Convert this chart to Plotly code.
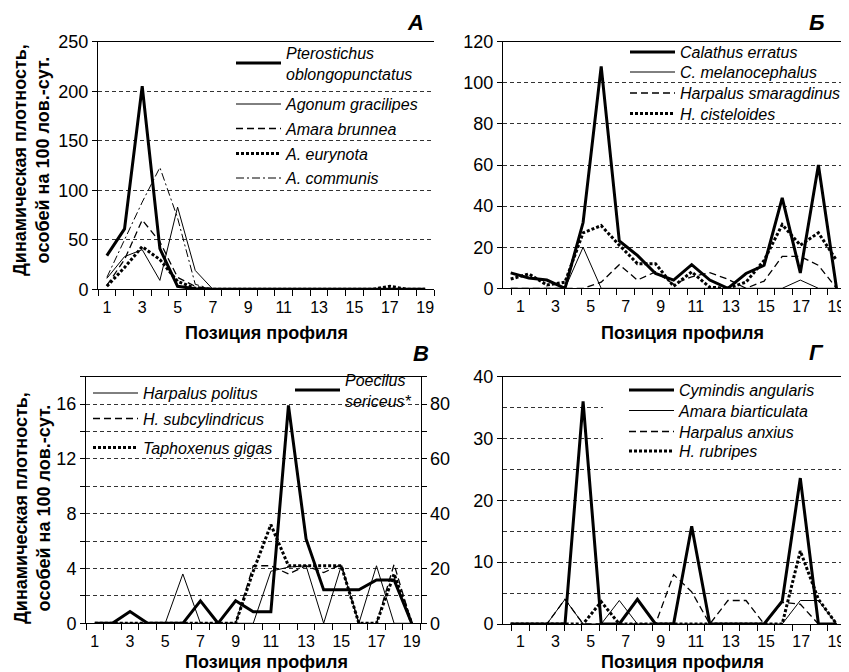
import plotly.graph_objects as go

# browser page offset (body margin) and usable figure size
OFF = 8
PW, PH = 849, 672
W, H = PW - OFF, PH - OFF


def fx(p):
    return (p - OFF) / W


def fy(p):
    return 1 - (p - OFF) / H


# ---------------- data ----------------
positions = list(range(1, 20))
tick_text = [str(k) if k % 2 else "" for k in positions]

# Panel А
a_pterostichus = [34, 61, 205, 41, 3, 0.5, 0, 0, 0, 0, 0, 0, 0, 0, 0, 0, 0, 0, 0]
a_agonum = [11, 33, 40, 9, 83, 19, 0, 0, 0, 0, 0, 0, 0, 0, 0, 0, 0, 0, 0]
a_amara_brunnea = [4, 30, 70, 48, 12, 3, 0, 0, 0, 0, 0, 0, 0, 0, 0, 0, 0, 0, 0]
a_eurynota = [3, 22, 43, 30, 8, 1, 0, 0, 0, 0, 0, 0, 0, 0, 0, 0, 3, 0, 0]
a_communis = [12, 50, 88, 123, 72, 5, 0, 0, 0, 0, 0, 0, 0, 0, 0, 0, 0, 0, 0]

# Panel Б
b_calathus = [7.5, 5, 4, 0, 32, 108, 23, 16, 7.2, 4, 11.5, 4, 0, 7.2, 11.2, 44, 7.5, 60, 0]
b_melanocephalus = [0, 0, 0, 0, 20, 0, 0, 0, 0, 0, 0, 0, 0, 0, 0, 0, 4, 0, 0]
b_smaragdinus = [0, 0, 0, 0, 0, 3, 11.5, 4, 8, 2, 5.6, 7.6, 4.4, 0, 3.5, 15.5, 15.5, 11.2, 0]
b_cisteloides = [4.5, 7, 1.6, 3, 27, 30.5, 21, 12, 12, 1, 8, 0.5, 0, 3, 13.6, 31, 21, 27, 13.6]

# Panel В (left axis) and Poecilus (right axis)
v_politus = [0, 0, 0, 0, 0, 3.6, 0, 0, 0, 0, 3.8, 4.1, 4.2, 0, 4.2, 0, 4.2, 0, 0]
v_subcylindricus = [0, 0, 0, 0, 0, 0, 0, 0, 0, 4.2, 4.2, 3.6, 4.2, 3.7, 4.3, 0, 0, 4.3, 0]
v_taphoxenus = [0, 0, 0, 0, 0, 0, 0, 0, 0, 3.8, 7.2, 4.2, 4.2, 4.2, 4.2, 0, 0, 3.6, 0]
v_poecilus = [0, 0, 4.3, 0, 0, 0, 8.2, 0, 8.2, 4.2, 4.2, 79.5, 30.8, 12.2, 12.2, 12.2, 15.8, 15.8, 0]

# Panel Г
g_cymindis = [0, 0, 0, 0, 36, 0, 0, 4, 0, 0, 15.8, 0, 0, 0, 0, 3.7, 23.6, 0, 0]
g_amara_biart = [0, 0, 0, 4, 0, 0, 3.8, 0, 0, 0, 0, 0, 0, 0, 0, 0, 3.8, 3.8, 0]
g_anxius = [0, 0, 0, 4, 0, 0, 0, 0, 0, 8, 5.2, 0, 3.8, 3.8, 0, 3.5, 3.2, 0, 0]
g_rubripes = [0, 0, 0, 0, 0, 3.6, 0, 0, 0, 0, 0, 0, 0, 0, 0, 0, 11.8, 4, 0]

# y tick values / labels
a_yticks = [0, 50, 100, 150, 200, 250]
b_yticks = [0, 20, 40, 60, 80, 100, 120]
v_yticks = [0, 2, 4, 6, 8, 10, 12, 14, 16, 18]
v_ytext = ["0", "", "4", "", "8", "", "12", "", "16", ""]
v_y2ticks = [0, 10, 20, 30, 40, 50, 60, 70, 80, 90]
v_y2text = ["0", "", "20", "", "40", "", "60", "", "80", ""]
g_yticks = [0, 10, 20, 30, 40]
g_yminor = [5, 15, 25, 35]

# In panels Б and Г the category labels sit on a slightly narrower pitch than
# the plotted points (as in the original figure): label/tick placement in data units
LBL_PITCH = 0.9696
lbl_pos = [1.536 + LBL_PITCH * (k - 1) for k in positions]
lbl_bounds = [1.055 + LBL_PITCH * j for j in range(20)]

FONT = "Liberation Sans, Arial, sans-serif"
STYLES = {
    "thick": dict(color="black", width=3),
    "thin": dict(color="black", width=1),
    "dash": dict(color="black", width=1.3, dash="7px,4px"),
    "dot": dict(color="black", width=3, dash="3px,2px"),
    "dashdot": dict(color="black", width=1, dash="8px,3px,2px,3px"),
}

ITEMW = 45
fig = go.Figure()
legend_layouts = {}


def add_series(name, ys, xaxis, yaxis, style, text_x, center_y, nlines=1):
    lid = "legend" if not legend_layouts else "legend%d" % (len(legend_layouts) + 1)
    fig.add_trace(go.Scatter(
        x=positions, y=ys, mode="lines", name=name, line=STYLES[style],
        xaxis=xaxis, yaxis=yaxis, legend=lid, showlegend=True, hoverinfo="skip"))
    h = 16 * 1.3 * nlines + 3
    top = center_y - 5 - h / 2
    left = text_x - (ITEMW + 10)
    legend_layouts[lid] = dict(
        x=fx(left), y=fy(top), xanchor="left", yanchor="top",
        bgcolor="rgba(0,0,0,0)", borderwidth=0, itemwidth=ITEMW,
        font=dict(family=FONT, size=16, style="italic", color="black"))


# Panel А
add_series("Pterostichus<br>oblongopunctatus", a_pterostichus, "x", "y", "thick", 286, 63, 2)
add_series("Agonum gracilipes", a_agonum, "x", "y", "thin", 286, 104)
add_series("Amara brunnea", a_amara_brunnea, "x", "y", "dash", 286, 128.5)
add_series("A. eurynota", a_eurynota, "x", "y", "dot", 286, 153.5)
add_series("A. communis", a_communis, "x", "y", "dashdot", 286, 178)

# Panel Б
add_series("Calathus erratus", b_calathus, "x2", "y2", "thick", 680, 52)
add_series("C. melanocephalus", b_melanocephalus, "x2", "y2", "thin", 680, 72)
add_series("Harpalus smaragdinus", b_smaragdinus, "x2", "y2", "dash", 680, 93)
add_series("H. cisteloides", b_cisteloides, "x2", "y2", "dot", 680, 113.5)

# Panel В
add_series("Harpalus politus", v_politus, "x3", "y3", "thin", 143, 393)
add_series("H. subcylindricus", v_subcylindricus, "x3", "y3", "dash", 143, 418.5)
add_series("Taphoxenus gigas", v_taphoxenus, "x3", "y3", "dot", 143, 447.5)
add_series("Poecilus<br>sericeus*", v_poecilus, "x3", "y4", "thick", 345, 390, 2)

# Panel Г
add_series("Cymindis angularis", g_cymindis, "x4", "y5", "thick", 679, 390)
add_series("Amara biarticulata", g_amara_biart, "x4", "y5", "thin", 679, 410.5)
add_series("Harpalus anxius", g_anxius, "x4", "y5", "dash", 679, 431.5)
add_series("H. rubripes", g_rubripes, "x4", "y5", "dot", 679, 451)

GRID = dict(showgrid=True, gridcolor="#333", gridwidth=1, griddash="4px,3px")
XTICKFONT = dict(family=FONT, size=16, color="black")
YTICKFONT = dict(family=FONT, size=18, color="black")


def cat_xaxis(dom, rng, anchor, tickvals, bounds):
    return dict(
        domain=[fx(dom[0]), fx(dom[1])], range=rng, anchor=anchor,
        tickmode="array", tickvals=tickvals, ticktext=tick_text, ticks="",
        tickfont=XTICKFONT, showgrid=False, zeroline=False, ticklabelstandoff=3,
        showline=True, linecolor="black", linewidth=1, mirror=True,
        minor=dict(tickmode="array", tickvals=bounds, ticks="outside",
                   ticklen=6, tickcolor="black", tickwidth=1, showgrid=False),
    )


def val_yaxis(dom, rng, anchor, tickvals, ticktext=None, **kw):
    d = dict(
        domain=[fy(dom[1]), fy(dom[0])], range=rng, anchor=anchor,
        tickmode="array", tickvals=tickvals,
        ticktext=ticktext if ticktext is not None else [str(v) for v in tickvals],
        ticks="outside", ticklen=5, tickcolor="black", tickfont=YTICKFONT,
        showline=True, linecolor="black", linewidth=1, zeroline=False,
    )
    d.update(GRID)
    d.update(kw)
    return d


centre_bounds = [k + 0.5 for k in range(0, 20)]

layout = dict(
    width=W, height=H, margin=dict(l=0, r=0, t=0, b=0),
    paper_bgcolor="white", plot_bgcolor="white", template="none",
    font=dict(family=FONT, color="black"),
    # Panel А
    xaxis=cat_xaxis((98, 434), [0.5, 19.5], "y", positions, centre_bounds),
    yaxis=val_yaxis((41.7, 289.3), [0, 250], "x", a_yticks),
    # Panel Б
    xaxis2=cat_xaxis((503, 849), [0.575, 19.69], "y2", lbl_pos, lbl_bounds),
    yaxis2=val_yaxis((41.7, 288.3), [0, 120], "x2", b_yticks),
    # Panel В
    xaxis3=cat_xaxis((86, 420.5), [0.5, 19.5], "y3", positions, centre_bounds),
    yaxis3=val_yaxis((376.7, 623.3), [0, 18], "x3", v_yticks, v_ytext),
    yaxis4=dict(domain=[fy(623.3), fy(376.7)], range=[0, 90], anchor="x3", overlaying="y3",
                side="right", tickmode="array", tickvals=v_y2ticks, ticktext=v_y2text,
                ticks="outside", ticklen=5, tickcolor="black", tickfont=YTICKFONT,
                showline=True, linecolor="black", linewidth=1, showgrid=False, zeroline=False),
    # Panel Г
    xaxis4=cat_xaxis((503, 849), [0.575, 19.69], "y5", lbl_pos, lbl_bounds),
    yaxis5=val_yaxis((376.7, 624), [0, 40], "x4", g_yticks,
                     minor=dict(tickmode="array", tickvals=g_yminor, ticks="", showgrid=True,
                                gridcolor="#333", gridwidth=1, griddash="4px,3px")),
    showlegend=True,
)
layout.update(legend_layouts)

annotations = []
TITLE_FONT = dict(family=FONT, size=18, color="black", weight="bold")
for (cx, cy) in [(266, 333), (682, 333), (266, 661.5), (682, 661.5)]:
    annotations.append(dict(text="Позиция профиля", x=fx(cx), y=fy(cy), xref="paper", yref="paper",
                            xanchor="center", yanchor="middle", showarrow=False, font=TITLE_FONT))
for cy in [160, 508]:
    annotations.append(dict(text="Динамическая плотность,<br>особей на 100 лов.-сут.",
                            x=fx(32), y=fy(cy), xref="paper", yref="paper", textangle=-90,
                            xanchor="center", yanchor="middle", showarrow=False, font=TITLE_FONT))
LETTER_FONT = dict(family=FONT, size=22, color="black", weight="bold", style="italic")
for (txt, cx, cy) in [("А", 415, 22), ("Б", 817, 22), ("В", 421, 353), ("Г", 816, 352)]:
    annotations.append(dict(text=txt, x=fx(cx), y=fy(cy), xref="paper", yref="paper",
                            xanchor="center", yanchor="middle", showarrow=False, font=LETTER_FONT))
layout["annotations"] = annotations

# white backing of the legend in panel Г (hides the gridlines behind it; no data
# passes through this region, legends are drawn above it)
layout["shapes"] = [dict(type="rect", xref="paper", yref="paper",
                         x0=fx(603), x1=fx(849), y0=fy(462), y1=fy(379),
                         fillcolor="white", line=dict(width=0), layer="above")]

fig.update_layout(**layout)
fig.write_html("out.html")
